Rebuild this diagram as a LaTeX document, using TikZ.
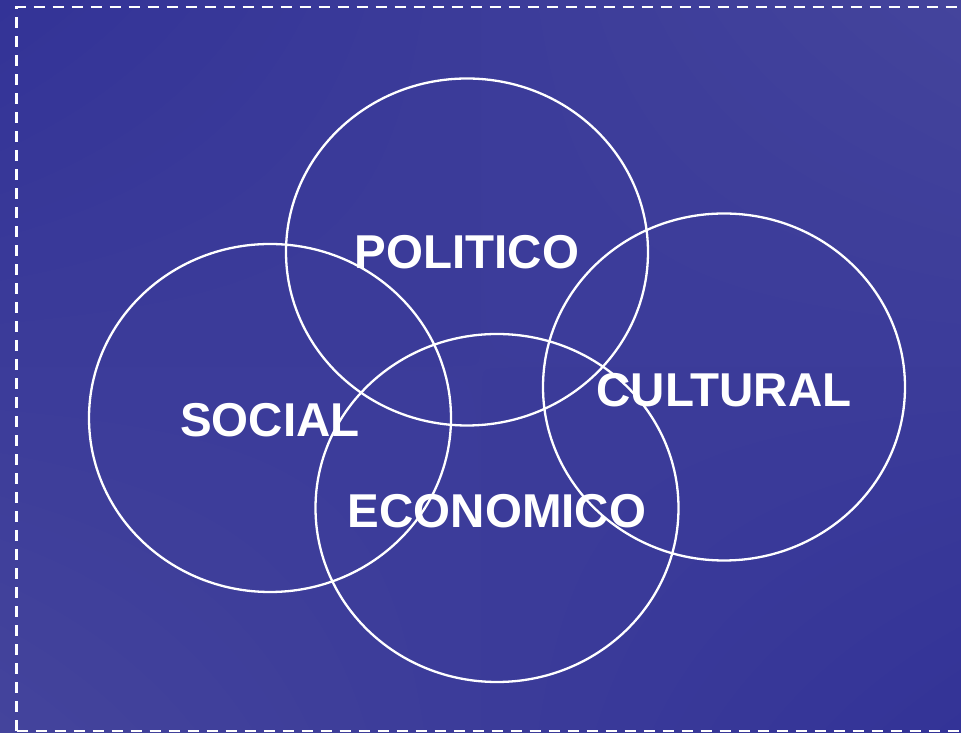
\documentclass[tikz,border=0pt]{standalone}
\usepackage{fontspec}
\setmainfont{Liberation Sans}
\usetikzlibrary{shadings}
\definecolor{bgdark}{RGB}{51,51,151}
\definecolor{bglight}{RGB}{68,68,156}
\tikzset{
  ring/.style={draw=white, line width=2.3pt},
  lbl/.style={text=white, font=\fontsize{47.5}{52}\selectfont\bfseries, inner sep=0pt},
  frame/.style={draw=white, line width=2.4pt, dash pattern=on 11pt off 8pt}
}
\begin{document}
\begin{tikzpicture}[x=1pt,y=1pt]
\useasboundingbox (0,0) rectangle (961,733);
\clip (0,0) rectangle (961,733);
\shade[upper left=bgdark, upper right=bglight, lower left=bglight, lower right=bgdark] (0,0) rectangle (961,733);
\draw[frame] (16.5,2) -- (16.5,726) -- (970,726);
\draw[frame] (16.5,2) -- (970,2);
\draw[ring] (467,481) ellipse [x radius=181, y radius=173.5];
\draw[ring] (270,315) ellipse [x radius=181, y radius=174];
\draw[ring] (497,225) ellipse [x radius=181.5, y radius=174];
\draw[ring] (724,346) ellipse [x radius=181, y radius=173.5];
\node[lbl] (pol) at (467,481) {POLITICO};
\node[lbl] (soc) at (270,313) {SOCIAL};
\node[lbl] (cul) at (724,343) {CULTURAL};
\node[lbl] (eco) at (497,222) {ECONOMICO};
\end{tikzpicture}
\end{document}
